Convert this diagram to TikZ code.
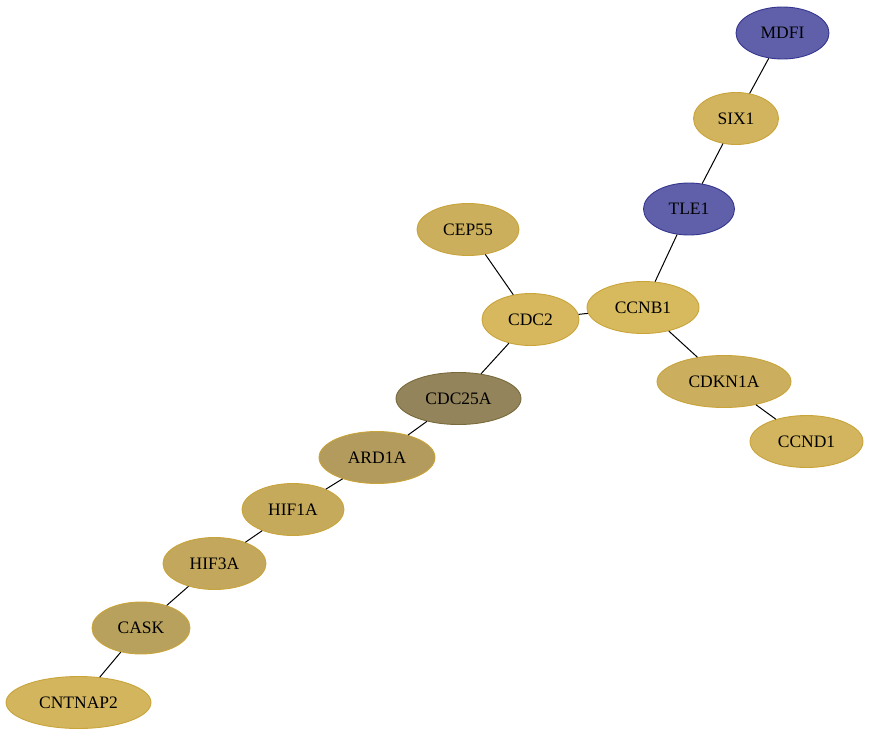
\documentclass[tikz,border=0pt]{standalone}
\usepackage{fontspec}
\setmainfont{Liberation Serif}
\usetikzlibrary{shapes.geometric}
\definecolor{bluefill}{HTML}{6060AA}
\definecolor{blueline}{HTML}{35358F}
\definecolor{goldline}{HTML}{C9A43A}
\definecolor{darkline}{HTML}{786A3A}
\tikzset{
  gene/.style={ellipse, draw=goldline, line width=0.9pt, inner sep=0pt, minimum height=52pt, font=\fontsize{17.5}{18}\selectfont, text=black},
  bluegene/.style={gene, fill=bluefill, draw=blueline},
  edge/.style={draw=black, line width=1pt}
}
\begin{document}
\begin{tikzpicture}[x=1pt,y=-1pt]
\useasboundingbox (0,0) rectangle (869,736);
\node[bluegene, minimum width=93pt] (MDFI) at (782.5,33) {MDFI};
\node[gene, fill={rgb,255:red,210;green,180;blue,95}, minimum width=85pt] (SIX1) at (736,118.5) {SIX1};
\node[bluegene, minimum width=91pt] (TLE1) at (689,209) {TLE1};
\node[gene, fill={rgb,255:red,203;green,175;blue,92}, minimum width=102pt] (CEP55) at (468,229.5) {CEP55};
\node[gene, fill={rgb,255:red,215;green,184;blue,94}, minimum width=97pt] (CDC2) at (530.5,319.5) {CDC2};
\node[gene, fill={rgb,255:red,216;green,186;blue,94}, minimum width=112pt] (CCNB1) at (643,307.5) {CCNB1};
\node[gene, fill={rgb,255:red,203;green,175;blue,94}, minimum width=134pt] (CDKN1A) at (724,381.5) {CDKN1A};
\node[gene, fill={rgb,255:red,210;green,181;blue,94}, minimum width=113pt] (CCND1) at (806.5,441.5) {CCND1};
\node[gene, fill={rgb,255:red,147;green,132;blue,92}, draw=darkline, minimum width=125pt] (CDC25A) at (458.5,398.5) {CDC25A};
\node[gene, fill={rgb,255:red,178;green,155;blue,92}, minimum width=116pt] (ARD1A) at (377,457.5) {ARD1A};
\node[gene, fill={rgb,255:red,198;green,170;blue,92}, minimum width=102pt] (HIF1A) at (293,509.5) {HIF1A};
\node[gene, fill={rgb,255:red,194;green,167;blue,92}, minimum width=103pt] (HIF3A) at (214.5,563.5) {HIF3A};
\node[gene, fill={rgb,255:red,184;green,161;blue,92}, minimum width=98pt] (CASK) at (141,628) {CASK};
\node[gene, fill={rgb,255:red,211;green,181;blue,94}, minimum width=145pt] (CNTNAP2) at (78.5,702.5) {CNTNAP2};
\draw[edge] (MDFI) -- (SIX1);
\draw[edge] (SIX1) -- (TLE1);
\draw[edge] (TLE1) -- (CCNB1);
\draw[edge] (CCNB1) -- (CDC2);
\draw[edge] (CEP55) -- (CDC2);
\draw[edge] (CDC2) -- (CDC25A);
\draw[edge] (CCNB1) -- (CDKN1A);
\draw[edge] (CDKN1A) -- (CCND1);
\draw[edge] (CDC25A) -- (ARD1A);
\draw[edge] (ARD1A) -- (HIF1A);
\draw[edge] (HIF1A) -- (HIF3A);
\draw[edge] (HIF3A) -- (CASK);
\draw[edge] (CASK) -- (CNTNAP2);
\end{tikzpicture}
\end{document}
